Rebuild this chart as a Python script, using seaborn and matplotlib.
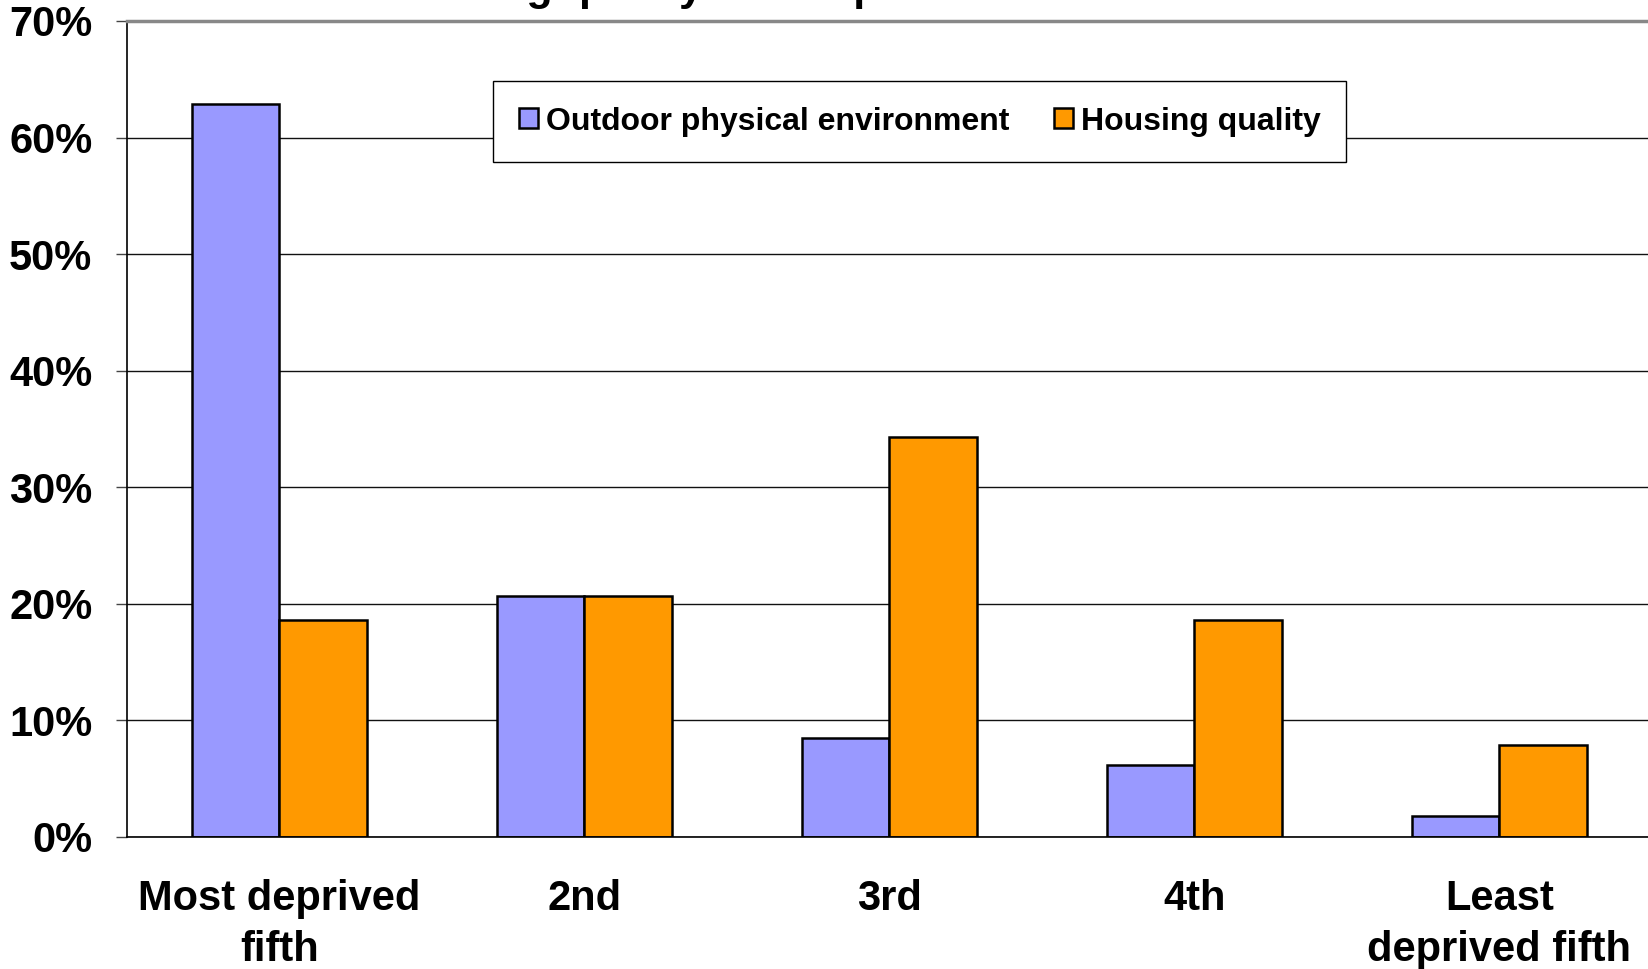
import matplotlib
matplotlib.use("Agg")
import matplotlib.pyplot as plt
import pandas as pd
import seaborn as sns
from matplotlib.ticker import FuncFormatter

# data (percent)
quintiles = ["Most deprived\nfifth", "2nd", "3rd", "4th", "Least\ndeprived fifth"]
outdoor = [62.9, 20.7, 8.5, 6.2, 1.8]
housing = [18.6, 20.7, 34.3, 18.6, 7.9]
series_names = ["Outdoor physical environment", "Housing quality"]
palette = ["#9999FF", "#FF9900"]

df = pd.DataFrame({
    "quintile": quintiles * 2,
    "share": outdoor + housing,
    "series": [series_names[0]] * 5 + [series_names[1]] * 5,
})

sns.set_style("white")
plt.rcParams["font.family"] = ["Liberation Sans", "DejaVu Sans"]
plt.rcParams["font.weight"] = "bold"
plt.rcParams["text.color"] = "black"
plt.rcParams["xtick.color"] = "black"
plt.rcParams["ytick.color"] = "black"

fig = plt.figure(figsize=(16.49, 9.69), dpi=100)
ax = fig.add_axes([127 / 1649, 1 - 837 / 969, 1525 / 1649, 816 / 969])

sns.barplot(
    data=df, x="quintile", y="share", hue="series", palette=palette,
    width=0.572, edgecolor="black", linewidth=1.8, saturation=1, ax=ax,
)

ax.set_xlim(-0.5, 4.5)
ax.set_ylim(0, 70)
ax.set_yticks(range(0, 71, 10))
ax.yaxis.set_major_formatter(FuncFormatter(lambda v, _: f"{v:.0f}%"))
ax.yaxis.grid(True, color="#111111", linewidth=1)
ax.set_axisbelow(True)
ax.set_xlabel("")
ax.set_ylabel("")

# tick marks sit between categories, labels at the centres
ax.set_xticks(range(5))
ax.set_xticklabels(quintiles, fontsize=30, fontweight="bold", linespacing=1.35)
ax.set_xticks([i - 0.5 for i in range(6)], minor=True)
ax.tick_params(axis="x", which="major", length=0, pad=30)
ax.tick_params(axis="x", which="minor", length=8, width=1, color="#444444")
ax.tick_params(axis="y", which="major", left=True, length=8, width=1,
               color="#444444", pad=17, labelsize=30)
for lab in ax.get_yticklabels():
    lab.set_fontweight("bold")

for side in ["left", "bottom"]:
    ax.spines[side].set_color("black")
    ax.spines[side].set_linewidth(1.2)
ax.spines["top"].set_color("#888888")
ax.spines["top"].set_linewidth(2.5)
ax.spines["right"].set_visible(False)

handles, labels = ax.get_legend_handles_labels()
ax.legend(
    handles, labels, ncol=2, loc="upper left",
    bbox_to_anchor=(493 / 1649, 1 - 81 / 969), bbox_transform=fig.transFigure,
    prop={"size": 23, "weight": "bold"}, frameon=True, fancybox=False,
    edgecolor="black", framealpha=1, borderpad=0.8, handlelength=0.6,
    handleheight=0.6, handletextpad=0.25, columnspacing=1.4, borderaxespad=0,
)
ax.get_legend().get_frame().set_linewidth(1)

# title sits almost entirely above the figure, only descenders show
fig.text(381 / 1649, 1.0, "Housing quality and deprivation",
         fontsize=31, fontweight="bold", ha="left", va="baseline")

fig.savefig("out.png", dpi=100)
